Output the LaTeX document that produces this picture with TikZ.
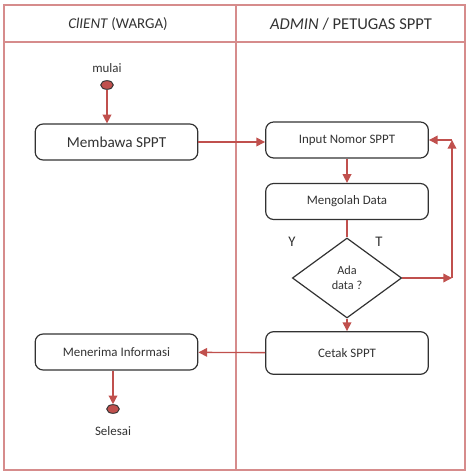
\documentclass[tikz,border=0pt]{standalone}
\usepackage{fontspec}
\setmainfont{Carlito}
\usepackage{tikz}
\usetikzlibrary{shapes.geometric,arrows.meta}
\usepackage{xcolor}
\definecolor{lanered}{RGB}{214,140,140}
\definecolor{flowred}{RGB}{192,80,77}
\definecolor{boxgray}{RGB}{50,50,50}

\tikzset{
    activity/.style={draw=boxgray, line width=0.9pt, rounded corners=6pt, minimum width=122pt, minimum height=27pt, font=\fontsize{9.7}{11}\selectfont, text=boxgray},
    decision/.style={draw=boxgray, line width=0.9pt, diamond, minimum width=82pt, minimum height=60pt, aspect=1.4, inner sep=0pt, font=\fontsize{9.2}{11}\selectfont, text=boxgray, align=center},
    dot/.style={draw=boxgray, fill=flowred, ellipse, minimum width=9.5pt, minimum height=6.5pt, inner sep=0pt, line width=0.7pt},
    flow/.style={draw=flowred, line width=1pt, -{Triangle[length=6.5pt,width=6.5pt]}},
}

\begin{document}
\begin{tikzpicture}[x=0.75pt, y=-0.75pt]
    \useasboundingbox (0,0) rectangle (469,473);

    % swimlanes
    \draw[lanered, line width=0.8pt] (4,5) rectangle (465,470);
    \draw[lanered, line width=0.8pt] (4,42) -- (465,42);
    \draw[lanered, line width=0.8pt] (236,5) -- (236,470);
    \node[font=\fontsize{11.2}{13}\selectfont, text=boxgray] (laneA) at (118,24) {\textit{ClIENT} (WARGA)};
    \node[font=\fontsize{12.4}{14}\selectfont, text=boxgray] (laneB) at (351,24) {\textit{ADMIN} / PETUGAS SPPT};

    % client side
    \node[font=\fontsize{9.7}{11}\selectfont, text=boxgray] (mulai) at (107,68) {mulai};
    \node[dot] (start) at (107,85) {};
    \node[activity, font=\fontsize{11.4}{14}\selectfont] (bawa) at (116.5,142) {Membawa SPPT};
    \node[activity] (terima) at (116.5,352) {Menerima Informasi};
    \node[dot] (stop) at (113,409) {};
    \node[font=\fontsize{9.7}{11}\selectfont, text=boxgray] (selesai) at (113,431) {Selesai};

    % admin side
    \node[activity] (input) at (347,140) {Input Nomor SPPT};
    \node[activity] (olah) at (347,201.5) {Mengolah Data};
    \node[decision] (cek) at (347,278) {Ada\\data ?};
    \node[activity, minimum height=32pt] (cetak) at (347,353) {Cetak SPPT};
    \node[font=\fontsize{11}{13}\selectfont, text=boxgray] (ya) at (292,242) {Y};
    \node[font=\fontsize{11}{13}\selectfont, text=boxgray] (tidak) at (379,242) {T};
    \coordinate (c1) at (452,278);
    \coordinate (c2) at (452,140);

    % connectors
    \draw[flow] (start) -- (start |- bawa.north);
    \draw[flow] (bawa.east) -- (input.west |- bawa.east);
    \draw[flow] (input) -- (olah);
    \draw[flowred, line width=1pt] (olah) -- (cek.north);
    \draw[flow] (cek) -- (cetak);
    \draw[flow] (cek.east) -- (c1);
    \draw[flow] (c1) -- (c2);
    \draw[flow] (c2) -- (input.east);
    \draw[flow] (cetak) -- (terima);
    \draw[flow] (terima.south -| stop) -- (stop);
\end{tikzpicture}
\end{document}
